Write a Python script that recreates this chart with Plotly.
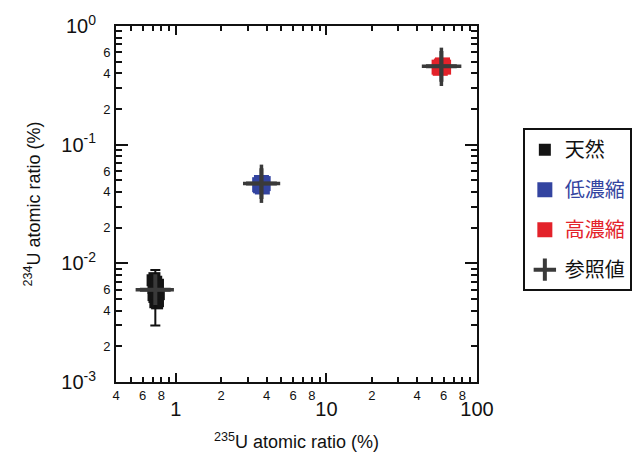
import plotly.graph_objects as go
import numpy as np

# ---- data ----
nat_x = [0.70, 0.72, 0.74, 0.76, 0.71, 0.73, 0.75, 0.77, 0.72, 0.74, 0.76, 0.71, 0.73, 0.75, 0.74]
nat_y = [0.0072, 0.0075, 0.0070, 0.0066, 0.0062, 0.0058, 0.0060, 0.0055, 0.0052, 0.0050, 0.0048, 0.0054, 0.0047, 0.0046, 0.0064]
low_x = [3.6, 3.7, 3.8, 3.65, 3.75]
low_y = [0.046, 0.048, 0.047, 0.045, 0.044]
high_x = [56.0, 59.0, 58.0, 60.0, 57.0]
high_y = [0.45, 0.47, 0.46, 0.45, 0.44]

nat_err_x = [0.73]
nat_err_y = [0.0055]
nat_err_plus = [0.0033]
nat_err_minus = [0.0025]

ref_x = [0.73, 3.7, 58.0]
ref_y = [0.0060, 0.047, 0.457]
ref_ex_plus = [0.24, 1.23, 20.7]
ref_ex_minus = [0.19, 0.91, 15.0]
ref_ey_plus = [0.0, 0.0209, 0.20]
ref_ey_minus = [0.0, 0.0147, 0.145]

names = ["天然", "低濃縮", "高濃縮", "参照値"]
colors = ["#141414", "#3344a0", "#e3222a", "#3a3a3a"]

# tick definitions
x_minor_vals = [0.5, 0.6, 0.7, 0.8, 0.9, 2, 3, 4, 5, 6, 7, 8, 9, 20, 30, 40, 50, 60, 70, 80, 90]
x_all = [0.4] + x_minor_vals
x_lab = {0.4: "4", 0.6: "6", 0.8: "8", 2: "2", 4: "4", 6: "6", 8: "8", 20: "2", 40: "4", 60: "6", 80: "8"}
x_major = [1, 10, 100]
x_major_text = ["1", "10", "100"]

y_minor_vals = [m * 10.0 ** e for e in (-3, -2, -1) for m in range(2, 10)]
y_lab_mult = {2: "2", 4: "4", 6: "6"}
y_major = [1e-3, 1e-2, 1e-1, 1e0]
y_major_text = ["10<sup>-3</sup>", "10<sup>-2</sup>", "10<sup>-1</sup>", "10<sup>0</sup>"]

FONT = "Liberation Sans, Arial, sans-serif"
CJK = "Noto Sans CJK JP"

fig = go.Figure()

fig.add_trace(go.Scatter(x=nat_x, y=nat_y, mode="markers", name=names[0],
                         marker=dict(symbol="square", size=12, color=colors[0]),
                         xaxis="x", yaxis="y", legendgroup="a"))
fig.add_trace(go.Scatter(x=low_x, y=low_y, mode="markers",
                         name="<span style='color:%s'>%s</span>" % (colors[1], names[1]),
                         marker=dict(symbol="square", size=15, color=colors[1]),
                         legendgroup="b"))
fig.add_trace(go.Scatter(x=high_x, y=high_y, mode="markers",
                         name="<span style='color:%s'>%s</span>" % (colors[2], names[2]),
                         marker=dict(symbol="square", size=15, color=colors[2]),
                         legendgroup="c"))
fig.add_trace(go.Scatter(x=nat_err_x, y=nat_err_y, mode="markers", showlegend=False,
                         marker=dict(symbol="square", size=10, color=colors[0]),
                         error_y=dict(type="data", array=nat_err_plus, arrayminus=nat_err_minus,
                                      color="#111111", thickness=2, width=5),
                         legendgroup="a"))
fig.add_trace(go.Scatter(x=ref_x, y=ref_y, mode="markers", name=names[3],
                         marker=dict(symbol="cross-thin", size=22, color=colors[3],
                                     line=dict(width=4, color=colors[3])),
                         error_x=dict(type="data", array=ref_ex_plus, arrayminus=ref_ex_minus,
                                      color=colors[3], thickness=3.5, width=0),
                         error_y=dict(type="data", array=ref_ey_plus, arrayminus=ref_ey_minus,
                                      color=colors[3], thickness=3.5, width=0),
                         legendgroup="d"))

xr = [np.log10(0.4), 2.0]
yr = [-3.0, 0.0]

common_ax = dict(type="log", showgrid=False, zeroline=False, showline=True,
                 linecolor="#111111", linewidth=2, ticks="inside",
                 tickcolor="#111111", mirror="allticks")

fig.update_layout(
    width=644, height=466,
    margin=dict(l=116, r=166, t=20, b=84),
    paper_bgcolor="white", plot_bgcolor="white",
    font=dict(family=FONT, color="#111111"),
    showlegend=True,
    legend=dict(x=1.127, y=0.713, xanchor="left", yanchor="top",
                bordercolor="#111111", borderwidth=2, bgcolor="white",
                font=dict(family=CJK, size=20, color="#111111"),
                tracegroupgap=11, itemsizing="trace"),
    xaxis=dict(common_ax, range=xr, tickvals=x_all,
               ticktext=[x_lab.get(v, "") for v in x_all],
               ticklen=5, tickwidth=1.5,
               tickfont=dict(size=13, family=FONT), ticklabelstandoff=0,
               title=dict(text="<sup>235</sup>U atomic ratio (%)",
                          font=dict(size=18, family=FONT), standoff=34)),
    xaxis2=dict(common_ax, range=xr, overlaying="x", anchor="y", side="bottom",
                tickvals=x_major, ticktext=x_major_text, ticklen=9, tickwidth=2,
                tickfont=dict(size=20, family=FONT), ticklabelstandoff=8),
    yaxis=dict(common_ax, range=yr, tickvals=y_minor_vals,
               ticktext=[y_lab_mult.get(int(round(v / 10 ** np.floor(np.log10(v) + 1e-9))), "") for v in y_minor_vals],
               ticklen=6, tickwidth=1.5,
               tickfont=dict(size=13, family=FONT), ticklabelstandoff=1,
               title=dict(text="<sup>234</sup>U atomic ratio (%)",
                          font=dict(size=18, family=FONT), standoff=58)),
    yaxis2=dict(common_ax, range=yr, overlaying="y", anchor="x", side="left",
                tickvals=y_major, ticktext=y_major_text, ticklen=12, tickwidth=2,
                tickfont=dict(size=20, family=FONT), ticklabelstandoff=14),
)

# bind an invisible trace to the overlay axes so they render
fig.add_trace(go.Scatter(x=[1], y=[0.01], xaxis="x2", yaxis="y2", mode="markers",
                         marker=dict(opacity=0), showlegend=False, hoverinfo="skip"))

fig.write_html("out.html")
